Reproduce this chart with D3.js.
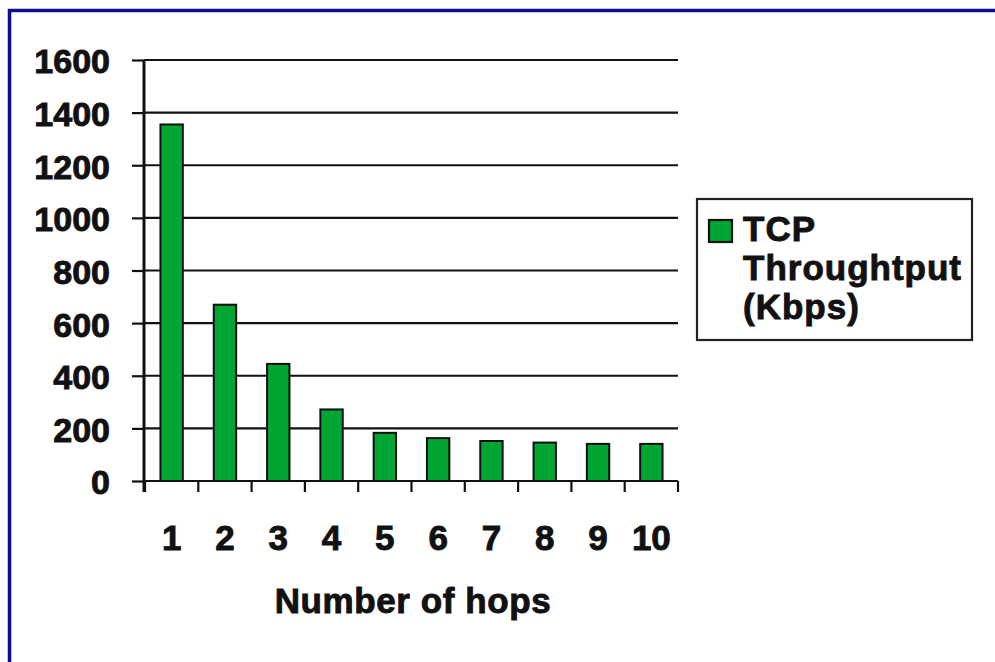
<!DOCTYPE html>
<html>
<head>
<meta charset="UTF-8">
<style>
  body { margin: 0; background: #fff; }
  svg { display: block; font-family: "Liberation Sans", Arial, sans-serif; font-weight: bold; }
  svg text { stroke: #111; stroke-width: 0.9px; }
</style>
</head>
<body>
<svg></svg>
<script src="https://cdnjs.cloudflare.com/ajax/libs/d3/7.8.5/d3.min.js"></script>
<script>
// data
const hops = [1, 2, 3, 4, 5, 6, 7, 8, 9, 10];
const throughput = [1355, 670, 445, 272, 183, 163, 152, 146, 141, 141];
const yTicks = [0, 200, 400, 600, 800, 1000, 1200, 1400, 1600];
const seriesName = ["TCP", "Throughtput", "(Kbps)"];

const width = 995, height = 662;
const green = "#00a634";

const svg = d3.select("svg")
    .attr("width", width)
    .attr("height", height);

// navy frame, runs off right and bottom edges
svg.append("rect")
    .attr("x", 9.5).attr("y", 10.5)
    .attr("width", width + 20).attr("height", height + 20)
    .attr("fill", "none")
    .attr("stroke", "#0c0c8c")
    .attr("stroke-width", 3.5);

const plot = { left: 145, right: 678, top: 60, bottom: 481 };

const x = d3.scaleBand()
    .domain(hops)
    .range([plot.left, plot.right])
    .paddingInner(0.58)
    .paddingOuter(0.29);

const y = d3.scaleLinear()
    .domain([0, 1600])
    .range([plot.bottom, plot.top]);

// gridlines
svg.append("g")
    .selectAll("line")
    .data(yTicks)
    .enter()
    .append("line")
    .attr("x1", plot.left - 1)
    .attr("x2", plot.right)
    .attr("y1", d => y(d))
    .attr("y2", d => y(d))
    .attr("stroke", "#111")
    .attr("stroke-width", 2.2);

// bars
svg.append("g")
    .selectAll("rect")
    .data(hops)
    .enter()
    .append("rect")
    .attr("x", d => x(d))
    .attr("y", (d, i) => y(throughput[i]))
    .attr("width", x.bandwidth())
    .attr("height", (d, i) => y(0) - y(throughput[i]))
    .attr("fill", green)
    .attr("stroke", "#111")
    .attr("stroke-width", 2);

// y axis
const yAxis = svg.append("g")
    .attr("transform", `translate(${plot.left - 1},0)`)
    .call(d3.axisLeft(y).tickValues(yTicks).tickSize(12).tickPadding(22).tickFormat(d3.format("d")));
yAxis.select(".domain").remove();
yAxis.selectAll(".tick line").attr("stroke", "#111").attr("stroke-width", 2.2);
yAxis.selectAll("text")
    .attr("fill", "#111")
    .style("font-size", "34px")
    .style("font-family", "'Liberation Sans', Arial, sans-serif")
    .style("font-weight", "bold")
    .attr("dy", "0.38em");

svg.append("line")
    .attr("x1", plot.left - 1).attr("x2", plot.left - 1)
    .attr("y1", plot.top).attr("y2", plot.bottom + 11)
    .attr("stroke", "#111").attr("stroke-width", 3);

// x tick marks at band edges
const step = x.step();
const edges = d3.range(hops.length + 1).map(i => plot.left + i * step);
svg.append("g")
    .selectAll("line")
    .data(edges)
    .enter()
    .append("line")
    .attr("x1", d => d).attr("x2", d => d)
    .attr("y1", plot.bottom).attr("y2", plot.bottom + 11)
    .attr("stroke", "#111").attr("stroke-width", 2.2);

// x labels
svg.append("g")
    .selectAll("text")
    .data(hops)
    .enter()
    .append("text")
    .attr("x", d => x(d) + x.bandwidth() / 2)
    .attr("y", 550)
    .attr("text-anchor", "middle")
    .style("font-size", "35px")
    .attr("fill", "#111")
    .text(d => d);

svg.append("text")
    .attr("x", 413)
    .attr("y", 613)
    .attr("text-anchor", "middle")
    .style("font-size", "35px")
    .style("letter-spacing", "0.6px")
    .attr("fill", "#111")
    .text("Number of hops");

// legend
const legend = svg.append("g");
legend.append("rect")
    .attr("x", 697).attr("y", 199)
    .attr("width", 275).attr("height", 141)
    .attr("fill", "#fff")
    .attr("stroke", "#222")
    .attr("stroke-width", 2.2);
legend.append("rect")
    .attr("x", 709).attr("y", 220)
    .attr("width", 23).attr("height", 22)
    .attr("fill", green)
    .attr("stroke", "#111")
    .attr("stroke-width", 2.2);
legend.selectAll("text.lbl")
    .data(seriesName)
    .enter()
    .append("text")
    .attr("class", "lbl")
    .attr("x", 743)
    .attr("y", (d, i) => 241 + i * 39)
    .style("font-size", "35px")
    .style("letter-spacing", "1px")
    .attr("fill", "#111")
    .text(d => d);
</script>
</body>
</html>
